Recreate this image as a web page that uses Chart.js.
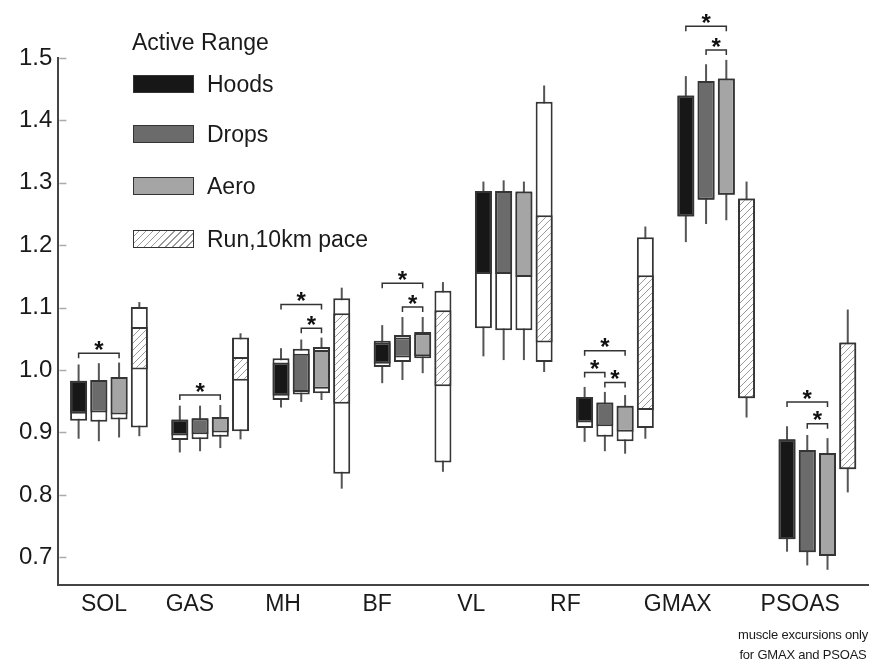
<!DOCTYPE html>
<html>
<head>
<meta charset="utf-8">
<script src="https://cdn.jsdelivr.net/npm/chart.js@4.4.1/dist/chart.umd.min.js"></script>
<style>
  html, body { margin: 0; padding: 0; background: #fff; }
  #wrap { position: relative; width: 870px; height: 666px; font-family: "Liberation Sans", Arial, sans-serif; color: #1a1a1a; }
  #wrap canvas { position: absolute; left: 0; top: 0; }
  .lg-title { position: absolute; left: 132px; top: 28px; font-size: 23px; line-height: 28px; }
  .lg-row { position: absolute; left: 133px; height: 28px; display: flex; align-items: center; font-size: 23px; }
  .sw { width: 59px; height: 16px; border: 1.5px solid #333; margin-right: 13px; }
  .note { position: absolute; left: 728px; top: 625px; width: 150px; text-align: center; font-size: 13px; line-height: 20px; letter-spacing: -0.2px; }
</style>
</head>
<body>
<div id="wrap">
  <canvas id="chart" width="870" height="666"></canvas>
  <div class="lg-title">Active Range</div>
  <div class="lg-row" style="top:70px"><div class="sw" style="background:#171717"></div>Hoods</div>
  <div class="lg-row" style="top:120px"><div class="sw" style="background:#6b6b6b"></div>Drops</div>
  <div class="lg-row" style="top:172px"><div class="sw" style="background:#a5a5a5"></div>Aero</div>
  <div class="lg-row" style="top:225px"><div class="sw" style="background:repeating-linear-gradient(-45deg,#fff 0 4px,#999 4px 5px)"></div>Run,10km pace</div>
  <div class="note">muscle excursions only<br>for GMAX and PSOAS</div>
</div>
<script>
const categories = ['SOL', 'GAS', 'MH', 'BF', 'VL', 'RF', 'GMAX', 'PSOAS'];
const seriesNames = ['Hoods', 'Drops', 'Aero', 'Run,10km pace'];

// box = full excursion range, active = filled part of it, whisker = line ends
const hoodsRange = [[0.919, 0.983], [0.888, 0.921], [0.952, 1.019], [1.005, 1.047], [1.067, 1.287], [0.907, 0.957], [1.246, 1.440], [0.729, 0.889]];
const hoodsActive = [[0.930, 0.983], [0.895, 0.921], [0.959, 1.012], [1.010, 1.044], [1.154, 1.287], [0.916, 0.957], [1.246, 1.440], [0.729, 0.889]];
const hoodsWhisker = [[0.890, 1.009], [0.868, 0.943], [0.940, 1.035], [0.979, 1.072], [1.022, 1.302], [0.885, 0.973], [1.205, 1.471], [0.709, 0.910]];

const dropsRange = [[0.917, 0.984], [0.889, 0.923], [0.961, 1.034], [1.013, 1.056], [1.064, 1.287], [0.893, 0.948], [1.273, 1.463], [0.708, 0.872]];
const dropsActive = [[0.932, 0.984], [0.897, 0.923], [0.965, 1.026], [1.020, 1.052], [1.154, 1.287], [0.910, 0.948], [1.273, 1.463], [0.708, 0.872]];
const dropsWhisker = [[0.886, 1.011], [0.870, 0.943], [0.949, 1.049], [0.984, 1.085], [1.016, 1.304], [0.870, 0.965], [1.234, 1.490], [0.687, 0.896]];

const aeroRange = [[0.921, 0.989], [0.893, 0.925], [0.963, 1.037], [1.019, 1.061], [1.064, 1.286], [0.886, 0.943], [1.281, 1.467], [0.702, 0.867]];
const aeroActive = [[0.929, 0.989], [0.900, 0.925], [0.970, 1.032], [1.022, 1.059], [1.149, 1.286], [0.901, 0.943], [1.281, 1.467], [0.702, 0.867]];
const aeroWhisker = [[0.892, 1.012], [0.875, 0.944], [0.952, 1.052], [0.995, 1.085], [1.016, 1.302], [0.866, 0.960], [1.240, 1.497], [0.680, 0.891]];

const runRange = [[0.908, 1.101], [0.902, 1.052], [0.834, 1.115], [0.852, 1.127], [1.013, 1.430], [0.907, 1.213], [0.955, 1.275], [0.841, 1.044]];
const runActive = [[1.001, 1.069], [0.983, 1.021], [0.946, 1.091], [0.974, 1.096], [1.044, 1.248], [0.936, 1.152], [0.955, 1.275], [0.841, 1.044]];
const runWhisker = [[0.894, 1.109], [0.889, 1.059], [0.810, 1.132], [0.837, 1.141], [0.997, 1.456], [0.890, 1.230], [0.924, 1.302], [0.804, 1.097]];

// significance brackets (*): muscle index, from series, to series, bracket height
const sigMuscle = [0, 1, 2, 2, 3, 3, 5, 5, 5, 6, 6, 7, 7];
const sigFrom = [0, 0, 0, 1, 0, 1, 0, 0, 1, 0, 1, 0, 1];
const sigTo = [2, 2, 2, 2, 2, 2, 2, 1, 2, 2, 2, 2, 2];
const sigLevel = [1.027, 0.960, 1.105, 1.067, 1.139, 1.101, 1.031, 0.996, 0.980, 1.551, 1.513, 0.949, 0.914];

// where the muscle names sit along the bottom axis (0..8 = category width)
const labelPos = [0.45, 1.30, 2.22, 3.15, 4.08, 5.01, 6.12, 7.33];

const ranges = [hoodsRange, dropsRange, aeroRange, runRange];
const actives = [hoodsActive, dropsActive, aeroActive, runActive];
const whiskers = [hoodsWhisker, dropsWhisker, aeroWhisker, runWhisker];

function hatchPattern() {
  const s = 7;
  const c = document.createElement('canvas');
  c.width = s; c.height = s;
  const g = c.getContext('2d');
  g.fillStyle = '#fff';
  g.fillRect(0, 0, s, s);
  g.strokeStyle = '#9a9a9a';
  g.lineWidth = 1;
  g.beginPath();
  g.moveTo(0, s); g.lineTo(s, 0);
  g.moveTo(-1, 1); g.lineTo(1, -1);
  g.moveTo(s - 1, s + 1); g.lineTo(s + 1, s - 1);
  g.stroke();
  return g.createPattern(c, 'repeat');
}

const fills = ['#171717', '#6b6b6b', '#a5a5a5', null];
const edge = '#353535';
const barBase = {
  borderColor: edge,
  borderWidth: 2,
  borderSkipped: false,
  categoryPercentage: 0.8,
  barPercentage: 0.84,
};

// range and active bar of a series share one slot via the same stack key
const datasets = [];
ranges.forEach((r, s) => {
  datasets.push({ ...barBase, label: seriesNames[s] + ' range', data: r, backgroundColor: '#fff', stack: 's' + s, order: 2 });
});
const hatch = hatchPattern();
actives.forEach((a, s) => {
  datasets.push({ ...barBase, label: seriesNames[s], data: a, backgroundColor: fills[s] || hatch, stack: 's' + s, order: 1 });
});

const boxExtras = {
  id: 'boxExtras',
  beforeDatasetsDraw(chart) {
    // whiskers go behind the boxes
    const ctx = chart.ctx, y = chart.scales.y;
    ctx.save();
    ctx.strokeStyle = '#555';
    ctx.lineWidth = 2;
    whiskers.forEach((w, s) => {
      const meta = chart.getDatasetMeta(s);
      w.forEach(([lo, hi], i) => {
        const x = meta.data[i].x;
        ctx.beginPath();
        ctx.moveTo(x, y.getPixelForValue(lo));
        ctx.lineTo(x, y.getPixelForValue(hi));
        ctx.stroke();
      });
    });
    ctx.restore();
  },
  afterDraw(chart) {
    const ctx = chart.ctx, y = chart.scales.y;
    ctx.save();
    // small inner ticks on the y axis
    ctx.strokeStyle = '#aaa';
    ctx.lineWidth = 1.5;
    y.ticks.forEach(t => {
      const py = Math.round(y.getPixelForValue(t.value)) + 0.5;
      ctx.beginPath();
      ctx.moveTo(y.right + 1, py);
      ctx.lineTo(y.right + 8, py);
      ctx.stroke();
    });
    // significance brackets
    ctx.strokeStyle = '#333';
    ctx.lineWidth = 1.5;
    ctx.fillStyle = '#111';
    ctx.font = 'bold 24px "Liberation Sans", Arial, sans-serif';
    ctx.textAlign = 'center';
    ctx.textBaseline = 'middle';
    sigMuscle.forEach((m, k) => {
      const x1 = chart.getDatasetMeta(sigFrom[k]).data[m].x;
      const x2 = chart.getDatasetMeta(sigTo[k]).data[m].x;
      const py = y.getPixelForValue(sigLevel[k]);
      ctx.beginPath();
      ctx.moveTo(x1, py + 5);
      ctx.lineTo(x1, py);
      ctx.lineTo(x2, py);
      ctx.lineTo(x2, py + 5);
      ctx.stroke();
      ctx.fillText('*', (x1 + x2) / 2, py - 2);
    });
    ctx.restore();
  },
};

new Chart(document.getElementById('chart'), {
  type: 'bar',
  data: { labels: categories, datasets },
  options: {
    responsive: false,
    animation: false,
    layout: { padding: { left: 13, right: 2, top: 58, bottom: 43 } },
    plugins: { legend: { display: false }, tooltip: { enabled: false } },
    scales: {
      x: { type: 'category', display: false, offset: true },
      xl: {
        type: 'linear',
        position: 'bottom',
        min: 0,
        max: 8,
        offset: false,
        grid: { display: false, drawTicks: false, offset: false },
        border: { display: true, color: '#444', width: 2 },
        afterBuildTicks: scale => { scale.ticks = labelPos.map(v => ({ value: v })); },
        ticks: {
          autoSkip: false,
          maxRotation: 0,
          padding: 5,
          color: '#1a1a1a',
          font: { family: '"Liberation Sans", Arial, sans-serif', size: 23 },
          callback: (v, i) => categories[i],
        },
      },
      y: {
        min: 0.655,
        max: 1.5,
        stacked: false,
        grid: { display: false, drawTicks: false },
        border: { display: true, color: '#444', width: 2 },
        ticks: {
          stepSize: 0.1,
          includeBounds: false,
          padding: 6,
          color: '#1a1a1a',
          font: { family: '"Liberation Sans", Arial, sans-serif', size: 24 },
          callback: v => v.toFixed(1),
        },
      },
    },
  },
  plugins: [boxExtras],
});
</script>
</body>
</html>
